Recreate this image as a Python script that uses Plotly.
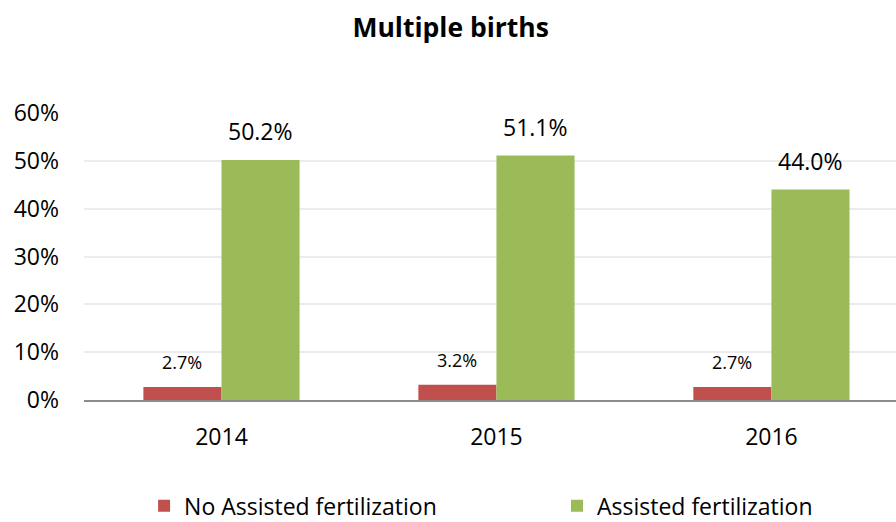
import plotly.graph_objects as go

years = ["2014", "2015", "2016"]
no_assisted = [0.027, 0.032, 0.027]
assisted = [0.502, 0.511, 0.440]
series_names = ["No Assisted fertilization", "Assisted fertilization"]
y_ticks = [0, 0.1, 0.2, 0.3, 0.4, 0.5, 0.6]
y_tick_labels = ["0%", "10%", "20%", "30%", "40%", "50%", "60%"]

RED = "#C0504D"
GREEN = "#9BBB59"
FONT = "Open Sans"

fig = go.Figure()
fig.add_trace(go.Bar(x=years, y=no_assisted, name=series_names[0],
                     marker=dict(color=RED, line=dict(width=0)), legend="legend"))
fig.add_trace(go.Bar(x=years, y=assisted, name=series_names[1],
                     marker=dict(color=GREEN, line=dict(width=0)), legend="legend2"))

bargap = 0.432
half = (1 - bargap) / 4  # offset of each bar center from category center
for i, y in enumerate(years):
    fig.add_annotation(x=i - half, y=no_assisted[i], text=f"{no_assisted[i]*100:.1f}%",
                       showarrow=False, yanchor="middle", yshift=25,
                       font=dict(family=FONT, size=18, color="#000000"))
    fig.add_annotation(x=i + half, y=assisted[i], text=f"{assisted[i]*100:.1f}%",
                       showarrow=False, yanchor="middle", yshift=29,
                       font=dict(family=FONT, size=23, color="#000000"))

legend_common = dict(orientation="h", yanchor="middle", y=-0.369,
                     font=dict(family=FONT, size=23, color="#000000"),
                     bgcolor="rgba(0,0,0,0)", tracegroupgap=0)

fig.update_layout(
    width=896, height=522,
    margin=dict(l=84, r=0, t=113, b=122, autoexpand=False),
    paper_bgcolor="white", plot_bgcolor="white",
    barmode="group", bargap=bargap, bargroupgap=0,
    title=dict(text="<b>Multiple births</b>", x=0.503, xanchor="center",
               y=0.947, yanchor="middle",
               font=dict(family=FONT, size=26.5, color="#000000")),
    font=dict(family=FONT, color="#000000"),
    xaxis=dict(type="category", range=[-0.5, 2.453], showgrid=False,
               showline=True, linecolor="#8c8c8c", linewidth=1.5,
               ticks="", ticklabelstandoff=16,
               tickfont=dict(family=FONT, size=23, color="#000000")),
    yaxis=dict(range=[0, 0.6], tickvals=y_ticks, ticktext=y_tick_labels,
               showgrid=True, gridcolor="#ececec", gridwidth=1.5,
               zeroline=False, showline=False, ticks="",
               ticklabelstandoff=24,
               tickfont=dict(family=FONT, size=23, color="#000000")),
    legend=dict(x=0.074, xanchor="left", **legend_common),
    legend2=dict(x=0.5825, xanchor="left", **legend_common),
    showlegend=True,
)

fig.write_html("out.html", config={"displayModeBar": False},
               post_script="document.body.style.margin='0';")
